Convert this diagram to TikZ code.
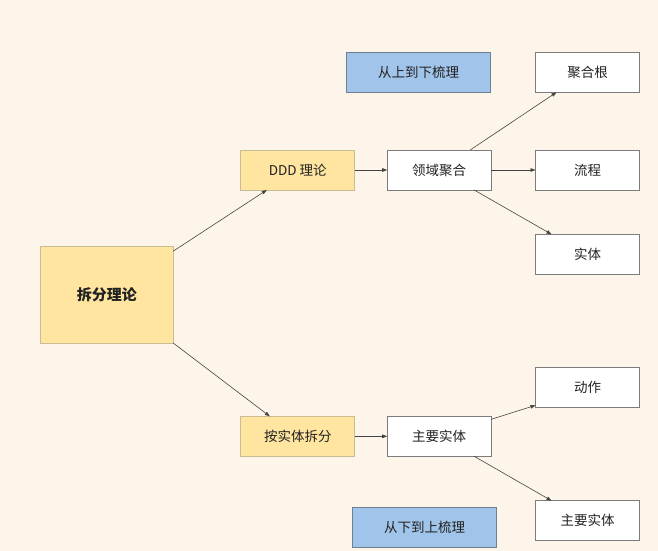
\documentclass[tikz,border=0pt]{standalone}
\usepackage{fontspec}
\setmainfont{Noto Sans CJK SC}
\usetikzlibrary{arrows.meta}
\definecolor{spbg}{HTML}{FDF5EA}
\definecolor{spyellow}{HTML}{FFE59F}
\definecolor{spyline}{HTML}{C8BD92}
\definecolor{spblue}{HTML}{A1C4EA}
\definecolor{spbline}{HTML}{6E7F92}
\definecolor{spgrey}{HTML}{7C7C7C}
\definecolor{spink}{HTML}{222222}

\begin{document}
\begin{tikzpicture}[
  x=1pt, y=-1pt,
  every node/.style={inner sep=0pt, outer sep=0pt, text=spink,
                     font=\fontsize{13.5}{16}\selectfont},
  ybox/.style={draw=spyline, line width=0.8pt, fill=spyellow,
               minimum width=114pt, minimum height=40pt},
  wbox/.style={draw=spgrey, line width=0.8pt, fill=white,
               minimum width=104pt, minimum height=40pt},
  blubox/.style={draw=spbline, line width=0.8pt, fill=spblue,
                 minimum width=144pt, minimum height=40pt},
  flow/.style={draw=spink!85, line width=0.6pt,
               -{Triangle[length=5pt,width=3.6pt]}},
]

% canvas, same size as the page
\fill[spbg] (0,0) rectangle (658,551);
\useasboundingbox (0,0) rectangle (658,551);

% column centres
\def\XA{297.8}\def\XB{439.2}\def\XC{587.5}

% ---------- root ----------
\node[ybox, minimum width=133pt, minimum height=97pt,
      font=\fontsize{15}{18}\selectfont\bfseries] (root) at (106.8,294.6) {拆分理论};

% ---------- two ways of splitting ----------
\node[ybox] (ddd)   at (\XA,170)   {DDD 理论};
\node[ybox] (byent) at (\XA,436.3) {按实体拆分};

\node[wbox] (dom)     at (\XB,170)   {领域聚合};
\node[wbox] (mainent) at (\XB,436.3) {主要实体};

% ---------- leaves ----------
\foreach \n/\y/\t in {aggr/72.3/聚合根, proc/170/流程, ent/254.3/实体,
                      act/387.3/动作, mainent2/520.7/主要实体}{
  \node[wbox] (\n) at (\XC,\y) {\t};
}

% ---------- direction notes ----------
\node[blubox] (topdown)  at (418.5,72.3)  {从上到下梳理};
\node[blubox] (bottomup) at (424.7,527.5) {从下到上梳理};

% ---------- arrows ----------
\draw[flow] ([yshift=-5pt]root.north east) -- ([xshift=26pt]ddd.south west);
\draw[flow] (root.south east) -- ([xshift=29pt]byent.north west);
\draw[flow] (ddd) -- (dom);
\draw[flow] (byent) -- (mainent);
\draw[flow] ([xshift=-21pt]dom.north east) -- ([xshift=21pt]aggr.south west);
\draw[flow] (dom) -- (proc);
\draw[flow] ([xshift=-17pt]dom.south east) -- ([xshift=16pt]ent.north west);
\draw[flow] ([yshift=-3pt]mainent.north east) -- ([yshift=2pt]act.south west);
\draw[flow] ([xshift=-17pt]mainent.south east) -- ([xshift=16pt]mainent2.north west);

\end{tikzpicture}
\end{document}
